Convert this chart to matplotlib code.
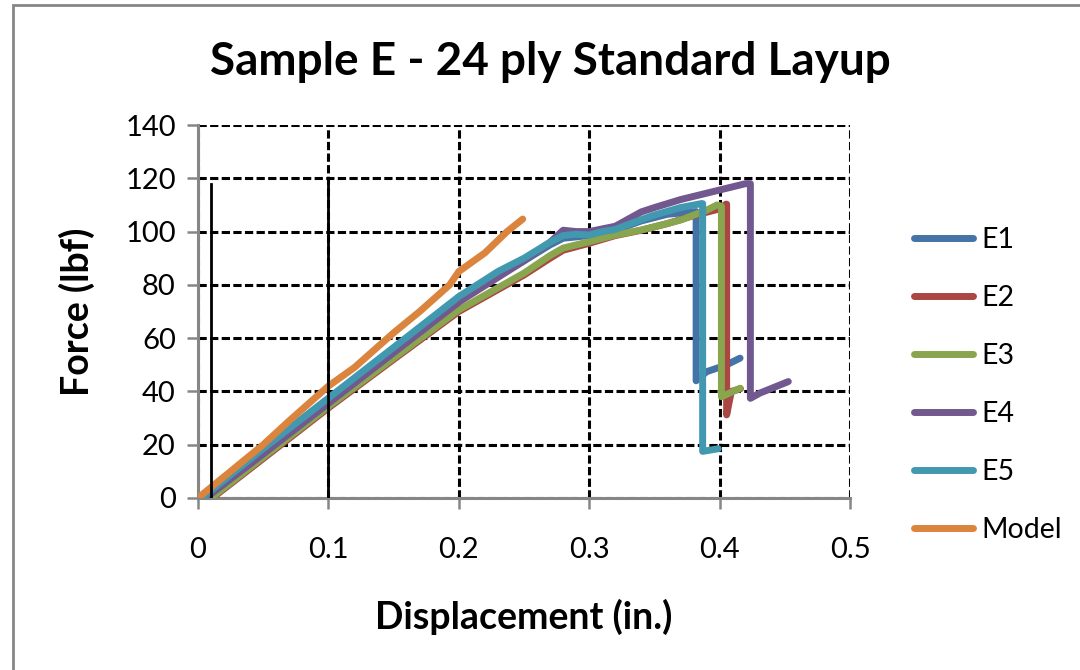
import matplotlib
matplotlib.use("Agg")
import matplotlib.pyplot as plt
from matplotlib.patches import Rectangle

plt.rcParams['font.family'] = ['Lato', 'DejaVu Sans']

# Test specimen load-displacement traces
e1_x = [0.005, 0.05, 0.1, 0.15, 0.2, 0.25, 0.27, 0.28, 0.3, 0.32, 0.34, 0.36, 0.382, 0.382, 0.39, 0.405, 0.4157]
e1_y = [0, 17.5, 36.5, 55.5, 74.5, 89, 95, 97.5, 98.5, 100.5, 104, 106.5, 107.5, 44, 47.4, 49.9, 52.5]

e2_x = [0.011, 0.05, 0.1, 0.15, 0.2, 0.25, 0.27, 0.28, 0.3, 0.32, 0.34, 0.36, 0.38, 0.4, 0.405, 0.4054, 0.4054, 0.409, 0.416]
e2_y = [0, 14.8, 33.8, 52, 70, 83.7, 90, 93, 95.6, 98.5, 100.5, 103, 106, 108.5, 110.3, 110.3, 31.2, 40, 41]

e3_x = [0.01, 0.05, 0.1, 0.15, 0.2, 0.25, 0.27, 0.28, 0.3, 0.32, 0.34, 0.35, 0.37, 0.39, 0.398, 0.4014, 0.4014, 0.4157]
e3_y = [0, 15.3, 34.3, 52.5, 70.6, 84.4, 91, 93.8, 96.2, 98.7, 100.6, 101.8, 104.3, 108, 110, 109.5, 38, 41.2]

e4_x = [0.006, 0.05, 0.1, 0.15, 0.2, 0.25, 0.26, 0.27, 0.28, 0.29, 0.3, 0.32, 0.34, 0.35, 0.37, 0.4, 0.42, 0.4236, 0.4236, 0.431, 0.4527]
e4_y = [0, 16.5, 35.5, 54.5, 73.5, 89, 92.5, 96, 100.5, 100, 100, 102, 107.4, 109, 112, 115.6, 118, 118, 37.4, 39.4, 43.7]

e5_x = [0.003, 0.05, 0.1, 0.15, 0.2, 0.23, 0.25, 0.26, 0.27, 0.28, 0.29, 0.3, 0.31, 0.32, 0.34, 0.35, 0.37, 0.386, 0.387, 0.387, 0.399]
e5_y = [0, 18.5, 37.5, 56.5, 75.6, 85, 90, 93, 96, 98.5, 99, 98.7, 100, 100.8, 104.5, 106.2, 109, 110.5, 110.5, 17.5, 18.5]

# Finite-element model prediction
model_x = [0, 0.02, 0.05, 0.07, 0.1, 0.12, 0.15, 0.17, 0.193, 0.2, 0.22, 0.237, 0.249]
model_y = [0, 8, 20, 29, 42, 49, 62, 70, 80, 85, 92, 100, 104.7]

# Reference markers
marker_x = [0.01, 0.1]
marker_top = 118

series = [
    ("E1", e1_x, e1_y, "#4572A7"),
    ("E2", e2_x, e2_y, "#AA4643"),
    ("E3", e3_x, e3_y, "#89A54E"),
    ("E4", e4_x, e4_y, "#71588F"),
    ("E5", e5_x, e5_y, "#4198AF"),
    ("Model", model_x, model_y, "#DB843D"),
]

x_ticks = [0, 0.1, 0.2, 0.3, 0.4, 0.5]
x_tick_labels = ["0", "0.1", "0.2", "0.3", "0.4", "0.5"]
y_ticks = [0, 20, 40, 60, 80, 100, 120, 140]

fig = plt.figure(figsize=(10.8, 6.7), dpi=100)
ax = fig.add_axes([198 / 1080, 1 - 498 / 670, 652 / 1080, 373 / 670])

handles = []
for name, xs, ys, col in series:
    h, = ax.plot(xs, ys, color=col, lw=5, solid_capstyle='round',
                 solid_joinstyle='round', label=name, zorder=3)
    handles.append(h)

for mx in marker_x:
    ax.plot([mx, mx], [0, marker_top], color='black', lw=2, zorder=4)

ax.set_xlim(0, 0.5)
ax.set_ylim(0, 140)
ax.set_xticks(x_ticks)
ax.set_xticklabels(x_tick_labels)
ax.set_yticks(y_ticks)

ax.grid(True, color='black', lw=2.2, linestyle=(0, (2.7, 1.1)), zorder=1)
ax.set_axisbelow(True)

for s in ['top', 'right']:
    ax.spines[s].set_visible(False)
for s in ['left', 'bottom']:
    ax.spines[s].set_color('#868686')
    ax.spines[s].set_linewidth(2.2)
    ax.spines[s].set_zorder(2)

ax.tick_params(axis='both', direction='out', length=8, width=1.8, color='#868686',
               labelsize=21, labelcolor='black')
ax.tick_params(axis='x', pad=20)
ax.tick_params(axis='y', pad=8)

ax.set_xlabel("Displacement (in.)", fontsize=27, fontweight='bold', labelpad=26)
ax.set_ylabel("Force (lbf)", fontsize=27, fontweight='bold', labelpad=22)

fig.suptitle("Sample E - 24 ply Standard Layup", fontsize=33, fontweight='bold',
             x=550 / 1080, y=1 - 62 / 670, va='center')

fig.legend(handles=handles, loc='upper left', bbox_to_anchor=(903 / 1080, 1 - 216 / 670),
           frameon=False, fontsize=20.5, handlelength=2.05, handletextpad=0.3,
           labelspacing=1.12, borderaxespad=0)

fig.add_artist(Rectangle((13 / 1080, -0.2), 1.2, 1.2 - 6 / 670 + 0.002,
                         transform=fig.transFigure, fill=False,
                         edgecolor='#868686', lw=2))

fig.savefig("out.png", dpi=100)
